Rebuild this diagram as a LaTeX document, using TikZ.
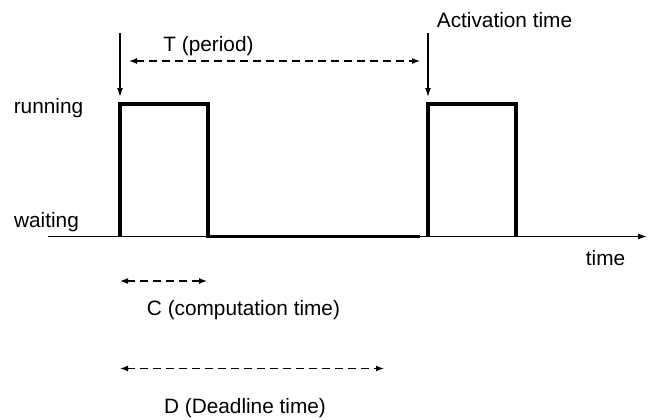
\documentclass[tikz,border=0pt]{standalone}
\usepackage{fontspec}
\setmainfont{Liberation Sans}
\usetikzlibrary{arrows.meta}
\begin{document}
\begin{tikzpicture}[x=1bp,y=-1bp,
  lbl/.style={inner sep=0pt, font=\fontsize{20.8bp}{24bp}\selectfont},
  pulse/.style={line width=3.3bp, line join=miter},
  axisline/.style={line width=1.3bp, -{Latex[length=9bp,width=6bp]}},
  span/.style={line width=1.3bp, dash pattern=on 8bp off 5bp, {Latex[length=8bp,width=6bp]}-{Latex[length=8bp,width=6bp]}},
  activ/.style={line width=1.3bp, -{Latex[length=9bp,width=6bp]}}]
\useasboundingbox (0,0) rectangle (654,419);
% time axis
\coordinate (ax0) at (48,236.5);
\coordinate (ax1) at (647,236.5);
\draw[axisline] (ax0) -- (ax1);
% task state signal
\coordinate (p1a) at (120,236.5);
\coordinate (p1b) at (120,104);
\coordinate (p1c) at (208,104);
\coordinate (p1d) at (208,236.5);
\coordinate (idle) at (420,236.5);
\coordinate (p2a) at (428,236.5);
\coordinate (p2b) at (428,104);
\coordinate (p2c) at (516,104);
\coordinate (p2d) at (516,236.5);
\draw[pulse] (p1a) -- (p1b) -- (p1c) -- (p1d) -- (idle);
\draw[pulse] (p2a) -- (p2b) -- (p2c) -- (p2d);
% activation instants
\coordinate (act1) at (120,33);
\coordinate (act1e) at (120,97);
\coordinate (act2) at (428,33);
\coordinate (act2e) at (428,97);
\draw[activ] (act1) -- (act1e);
\draw[activ] (act2) -- (act2e);
% labels
\node[lbl] (run) at (48.5,108) {running};
\node[lbl] (wait) at (46.5,222) {waiting};
\node[lbl] (acttxt) at (504.5,20) {Activation time};
\node[lbl] (timetxt) at (605.5,258) {time};
\node[lbl] (ttxt) at (208.5,46.5) {T (period)};
\node[lbl] (ctxt) at (243.5,310.5) {C (computation time)};
\node[lbl] (dtxt) at (245,408) {D (Deadline time)};
% interval spans
\coordinate (t0) at (129,61);
\coordinate (t1) at (420,61);
\coordinate (c0) at (120,281);
\coordinate (c1) at (207,281);
\coordinate (d0) at (120,368.5);
\coordinate (d1) at (384,368.5);
\draw[span] (t0) -- (t1);
\draw[span] (c0) -- (c1);
\draw[span] (d0) -- (d1);
\end{tikzpicture}
\end{document}
